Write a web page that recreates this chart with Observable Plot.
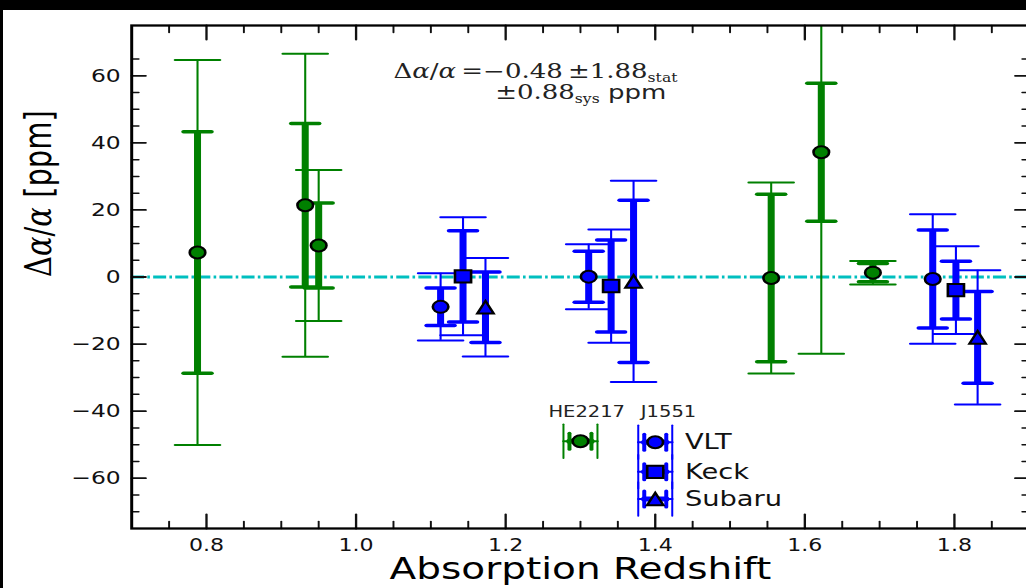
<!DOCTYPE html>
<html><head><meta charset="utf-8">
<script src="https://cdn.jsdelivr.net/npm/d3@7"></script>
<script src="https://cdn.jsdelivr.net/npm/@observablehq/plot@0.6"></script>
<style>
html,body{margin:0;padding:0;background:#000;overflow:hidden;width:1026px;height:588px;}
#fig{position:absolute;left:3px;top:10px;width:1040px;height:578px;background:#fff;overflow:hidden;}
</style></head><body><div id="fig"></div>
<script>
// ---------------- data ----------------
const he2217Z    = [0.788, 0.932, 0.950, 1.555, 1.622, 1.691];
const he2217Da   = [7.3, 21.4, 9.4, -0.3, 37.2, 1.3];
const he2217Stat = [36.0, 24.4, 12.7, 25.0, 20.6, 2.7];
const he2217Tot  = [57.4, 45.2, 22.5, 28.5, 60.1, 3.5];

const vltZ    = [1.113, 1.311, 1.771];
const vltDa   = [-8.9, 0.1, -0.6];
const vltStat = [5.6, 7.6, 14.6];
const vltTot  = [10.0, 9.7, 19.3];

const keckZ    = [1.143, 1.341, 1.802];
const keckDa   = [0.2, -2.7, -3.9];
const keckStat = [13.6, 13.7, 8.6];
const keckTot  = [17.6, 16.9, 13.1];

const subaruZ    = [1.173, 1.371, 1.831];
const subaruDa   = [-9.0, -1.3, -18.0];
const subaruStat = [10.5, 24.2, 13.7];
const subaruTot  = [14.7, 30.0, 20.0];

const xMajorTicks = [0.8, 1.0, 1.2, 1.4, 1.6, 1.8];
const xTickLabels = ["0.8", "1.0", "1.2", "1.4", "1.6", "1.8"];
const xMinorTicks = [0.75, 0.85, 0.9, 0.95, 1.05, 1.1, 1.15, 1.25, 1.3, 1.35, 1.45, 1.5, 1.55, 1.65, 1.7, 1.75, 1.85];
const yMajorTicks = [-60, -40, -20, 0, 20, 40, 60];
const yTickLabels = ["\u221260", "\u221240", "\u221220", "0", "20", "40", "60"];
const yMinorTicks = [-70, -65, -55, -50, -45, -35, -30, -25, -15, -10, -5, 5, 10, 15, 25, 30, 35, 45, 50, 55, 65];

const xLabel = "Absorption Redshift";
const yLabel = "\u0394\u03b1/\u03b1 [ppm]";
const annotationLines = ["\u0394\u03b1/\u03b1\u2009=\u22120.48\u2009\u00b11.88_{stat}", "\u00b10.88_{sys} ppm"];
const legendTitles = ["HE2217", "J1551"];
const legendLabels = ["VLT", "Keck", "Subaru"];

// ---------------- layout / style ----------------
const S = 1.3;            // horizontal stretch of the reference image
const PX = 1 / S;         // horizontal page px -> internal px
const W = 800, H = 578;
const GREEN = "#008000", BLUE = "#0000FF";

const line = {draw(ctx, l) { ctx.moveTo(0, 0); ctx.lineTo(0, -l); }};
const circleSym = {draw(ctx, size) { const r = Math.sqrt(size / Math.PI); ctx.moveTo(r, 0); ctx.arc(0, 0, r, 0, 2 * Math.PI); }};
const squareSym = {draw(ctx, size) { const r = Math.sqrt(size / Math.PI); ctx.rect(-r, -r, 2 * r, 2 * r); }};
const triSym = {draw(ctx, size) { const r = Math.sqrt(size / Math.PI); ctx.moveTo(0, -r); ctx.lineTo(r, r); ctx.lineTo(-r, r); ctx.closePath(); }};

const seriesDefs = [
  {z: he2217Z, da: he2217Da, stat: he2217Stat, tot: he2217Tot, color: GREEN, symbol: circleSym, r: 6},
  {z: vltZ, da: vltDa, stat: vltStat, tot: vltTot, color: BLUE, symbol: circleSym, r: 6},
  {z: keckZ, da: keckDa, stat: keckStat, tot: keckTot, color: BLUE, symbol: squareSym, r: 6.2},
  {z: subaruZ, da: subaruDa, stat: subaruStat, tot: subaruTot, color: BLUE, symbol: triSym, r: 6.3}
];
const tables = seriesDefs.map(s => s.z.map((z, i) => ({z, da: s.da[i], stat: s.stat[i], tot: s.tot[i]})));

// legend placement (data units)
const legendLayout = {heX: 1.3, heY: -49.0, jX: 1.4, jY: [-49.3, -58.1, -66.2]};

const marks = [];
// zero line
marks.push(Plot.ruleY([0], {stroke: "#00BFBF", strokeWidth: 3, strokeDasharray: "10,2.5,2,2.5"}));

// error bars
seriesDefs.forEach((s, k) => {
  const d = tables[k];
  marks.push(Plot.ruleX(d, {x: "z", y1: r => r.da - r.tot, y2: r => r.da + r.tot, stroke: s.color, strokeWidth: 1.6, clip: true}));
  for (const sign of [-1, 1]) {
    marks.push(Plot.vector(d, {x: "z", y: r => r.da + sign * r.tot, rotate: 90, anchor: "middle", length: 45 * PX, shape: line, stroke: s.color, strokeWidth: 2, clip: true}));
  }
});
seriesDefs.forEach((s, k) => {
  const d = tables[k];
  marks.push(Plot.ruleX(d, {x: "z", y1: r => r.da - r.stat, y2: r => r.da + r.stat, stroke: s.color, strokeWidth: 5.4, clip: true}));
  for (const sign of [-1, 1]) {
    marks.push(Plot.vector(d, {x: "z", y: r => r.da + sign * r.stat, rotate: 90, anchor: "middle", length: 28 * PX, shape: line, stroke: s.color, strokeWidth: 3.5, clip: true}));
  }
});
seriesDefs.forEach((s, k) => {
  marks.push(Plot.dot(tables[k], {x: "z", y: "da", symbol: s.symbol, r: s.r, fill: s.color, stroke: "black", strokeWidth: 2}));
});

// legend glyphs
function legendGlyph(x, y, color, symbol, r) {
  const d = [{x, y}];
  return [
    Plot.vector(d, {x: "x", y: "y", rotate: 90, anchor: "middle", length: 34 * PX, shape: line, stroke: color, strokeWidth: 2}),
    Plot.vector(d, {x: "x", y: "y", dx: -17 * PX, anchor: "middle", length: 34, shape: line, stroke: color, strokeWidth: 2 * PX}),
    Plot.vector(d, {x: "x", y: "y", dx: 17 * PX, anchor: "middle", length: 34, shape: line, stroke: color, strokeWidth: 2 * PX}),
    Plot.vector(d, {x: "x", y: "y", rotate: 90, anchor: "middle", length: 22 * PX, shape: line, stroke: color, strokeWidth: 5}),
    Plot.vector(d, {x: "x", y: "y", dx: -11 * PX, anchor: "middle", length: 16, shape: line, stroke: color, strokeWidth: 4 * PX}),
    Plot.vector(d, {x: "x", y: "y", dx: 11 * PX, anchor: "middle", length: 16, shape: line, stroke: color, strokeWidth: 4 * PX}),
    Plot.dot(d, {x: "x", y: "y", symbol, r, fill: color, stroke: "black", strokeWidth: 2})
  ];
}
marks.push(...legendGlyph(legendLayout.heX, legendLayout.heY, GREEN, circleSym, 6));
legendLabels.forEach((lab, i) => {
  const s = seriesDefs[i + 1];
  marks.push(...legendGlyph(legendLayout.jX, legendLayout.jY[i], BLUE, s.symbol, s.r));
});
marks.push(Plot.text(legendLabels, {x: () => legendLayout.jX, y: (d, i) => legendLayout.jY[i], text: d => d, textAnchor: "start", dx: 22.8, fontSize: 21, fill: "#111"}));
marks.push(Plot.text([legendTitles[0]], {x: () => legendLayout.heX, y: () => legendLayout.heY, text: d => d, dx: 4.8, dy: -29, fontSize: 15, fill: "#222"}));
marks.push(Plot.text([legendTitles[1]], {x: () => legendLayout.jX, y: () => legendLayout.jY[0], text: d => d, dx: 10.2, dy: -30, fontSize: 15, fill: "#222"}));

// annotation
const annotX = [1.050, 1.186], annotY = [61.2, 55.1];
marks.push(Plot.text(annotationLines, {x: (d, i) => annotX[i], y: (d, i) => annotY[i], text: d => d, textAnchor: "start", fontSize: 20, fontFamily: "DejaVu Serif", fill: "#222"}));

// ticks (inward, all four sides)
const tk = (data, chan, anchor, rot, len, sw) => Plot.vector(data, {[chan]: d => d, frameAnchor: anchor, rotate: rot, anchor: "start", length: len, shape: line, stroke: "#111", strokeWidth: sw});
marks.push(
  tk(xMajorTicks, "x", "bottom", 0, 14, 1.8), tk(xMinorTicks, "x", "bottom", 0, 7, 1.5),
  tk(xMajorTicks, "x", "top", 180, 14, 1.8), tk(xMinorTicks, "x", "top", 180, 7, 1.5),
  tk(yMajorTicks, "y", "left", 90, 14 * PX, 1.8), tk(yMinorTicks, "y", "left", 90, 7 * PX, 1.5),
  tk(yMajorTicks, "y", "right", -90, 14 * PX, 1.8), tk(yMinorTicks, "y", "right", -90, 7 * PX, 1.5)
);
marks.push(Plot.text(yMajorTicks, {y: d => d, frameAnchor: "left", lineAnchor: "middle", text: (d, i) => yTickLabels[i], textAnchor: "end", dx: -11 * PX, fontSize: 18, fill: "#111"}));
marks.push(Plot.text(xMajorTicks, {x: d => d, frameAnchor: "bottom", lineAnchor: "middle", text: (d, i) => xTickLabels[i], dy: 17, fontSize: 17, fill: "#111"}));
marks.push(Plot.text([xLabel], {frameAnchor: "bottom", lineAnchor: "middle", text: d => d, dy: 41, fontSize: 30, fill: "#000"}));
marks.push(Plot.text([yLabel], {frameAnchor: "left", lineAnchor: "middle", text: d => d, rotate: -90, dx: -71.5, fontSize: 29, fontFamily: "DejaVu Serif", fill: "#000"}));
marks.push(Plot.frame({stroke: "black", strokeWidth: 2.3}));

const chart = Plot.plot({
  width: W, height: H,
  marginLeft: 98.5, marginRight: 11.1, marginTop: 15, marginBottom: 60,
  x: {domain: [0.7, 1.9], axis: null},
  y: {domain: [-75, 75], axis: null},
  style: {fontFamily: "DejaVu Sans", background: "white", overflow: "visible"},
  marks
});

// rich text: subscripts, italic alpha, sans "ppm"
function richify(el) {
  const fs = parseFloat(el.getAttribute("font-size")) || parseFloat(getComputedStyle(el).fontSize) || 20;
  const raw = el.textContent;
  while (el.firstChild) el.removeChild(el.firstChild);
  const parts = raw.split(/(_\{[^}]*\}|\u03b1|\[ppm\]|ppm)/).filter(p => p);
  let shifted = 0;
  for (const p of parts) {
    const t = document.createElementNS("http://www.w3.org/2000/svg", "tspan");
    let dy = 0;
    if (p.startsWith("_{")) {
      t.textContent = p.slice(2, -1);
      t.setAttribute("font-size", (fs * 0.6).toFixed(1));
      const sh = fs * 0.2;
      dy = sh - shifted; shifted = sh;
    } else {
      t.textContent = p;
      dy = -shifted; shifted = 0;
      if (p === "\u03b1") { t.setAttribute("font-style", "italic"); t.setAttribute("font-family", "DejaVu Serif"); }
      else if (p === "ppm" || p === "[ppm]") t.setAttribute("font-family", "DejaVu Sans");
    }
    if (dy) t.setAttribute("dy", dy.toFixed(2));
    el.appendChild(t);
  }
}
chart.querySelectorAll("text").forEach(el => {
  if (el.textContent.includes("_{") || el.textContent.includes("\u0394")) richify(el);
});

// stretch horizontally like the reference image
chart.setAttribute("width", W * S);
chart.setAttribute("height", H);
chart.setAttribute("preserveAspectRatio", "none");
chart.style.maxWidth = "none";
chart.style.height = H + "px";
chart.style.width = (W * S) + "px";
document.getElementById("fig").appendChild(chart);
</script></body></html>
